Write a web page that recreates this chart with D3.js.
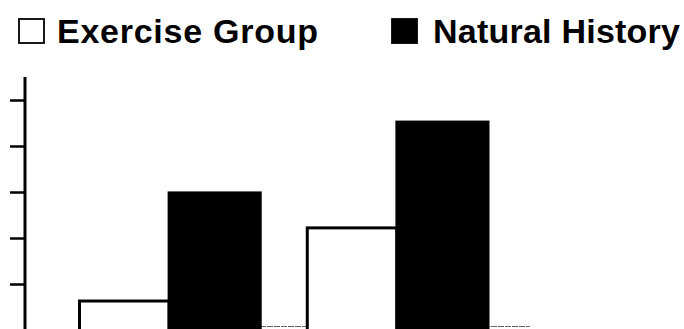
<!DOCTYPE html>
<html>
<head>
<meta charset="utf-8">
<script src="https://cdn.jsdelivr.net/npm/d3@7"></script>
<style>
  html, body { margin: 0; padding: 0; background: #fff; }
  svg { display: block; }
</style>
</head>
<body>
<script>
// Data (in tick units; the axis has no labels)
const groups = ["Group 1", "Group 2"];
const series = ["Exercise Group", "Natural History"];
const exerciseValues = [0.63, 2.22];
const naturalValues = [2.98, 4.52];
const tickValues = [1, 2, 3, 4, 5];

const W = 684, H = 329;
const svg = d3.select("body").append("svg").attr("width", W).attr("height", H);

const y = d3.scaleLinear().domain([0, 5.5]).range([330, 77]);
const x0 = d3.scaleBand().domain(groups).range([78, 488]).paddingInner(0.2).paddingOuter(0);
const x1 = d3.scaleBand().domain(series).range([0, x0.bandwidth()]).padding(0);
const fills = { "Exercise Group": "#fff", "Natural History": "#000" };

const rows = groups.map((g, i) => ({ g, vals: [
  { s: series[0], v: exerciseValues[i] },
  { s: series[1], v: naturalValues[i] }
]}));

// faint baseline
svg.append("line")
  .attr("x1", x0(groups[0])).attr("x2", 530)
  .attr("y1", y(0) - 3.5).attr("y2", y(0) - 3.5)
  .attr("stroke", "#666").attr("stroke-width", 1.2)
  .attr("stroke-dasharray", "6,1");

// bars
const gsel = svg.selectAll("g.grp").data(rows).join("g")
  .attr("class", "grp")
  .attr("transform", d => `translate(${x0(d.g)},0)`);
gsel.selectAll("rect").data(d => d.vals).join("rect")
  .attr("x", d => x1(d.s) + (d.s === series[0] ? 1.5 : 0))
  .attr("width", d => x1.bandwidth() - (d.s === series[0] ? 1.5 : 0))
  .attr("y", d => y(d.v))
  .attr("height", d => H + 10 - y(d.v))
  .attr("fill", d => fills[d.s])
  .attr("stroke", "#000")
  .attr("stroke-width", 3);

// y axis
const axis = d3.axisLeft(y).tickValues(tickValues).tickSize(15).tickFormat("");
const ag = svg.append("g").attr("transform", "translate(25,0)").call(axis);
ag.select(".domain").remove();
ag.selectAll(".tick line").attr("stroke", "#000").attr("stroke-width", 2.5);
svg.append("line")
  .attr("x1", 25).attr("x2", 25)
  .attr("y1", 77).attr("y2", H + 5)
  .attr("stroke", "#000").attr("stroke-width", 3);

// legend
const legend = [
  { s: series[0], x: 19, tx: 57, len: 261 },
  { s: series[1], x: 392, tx: 433, len: 247 }
];
const lg = svg.selectAll("g.leg").data(legend).join("g")
  .attr("class", "leg");
lg.append("rect")
  .attr("x", d => d.x).attr("y", 19).attr("width", 25).attr("height", 24)
  .attr("fill", d => fills[d.s])
  .attr("stroke", "#000").attr("stroke-width", 1.8);
lg.append("text")
  .attr("x", d => d.tx).attr("y", 43)
  .attr("font-family", "Liberation Sans, Arial, sans-serif")
  .attr("font-weight", "bold")
  .attr("font-size", 34)
  .attr("textLength", d => d.len)
  .attr("lengthAdjust", "spacing")
  .attr("fill", "#000")
  .text(d => d.s);
</script>
</body>
</html>
